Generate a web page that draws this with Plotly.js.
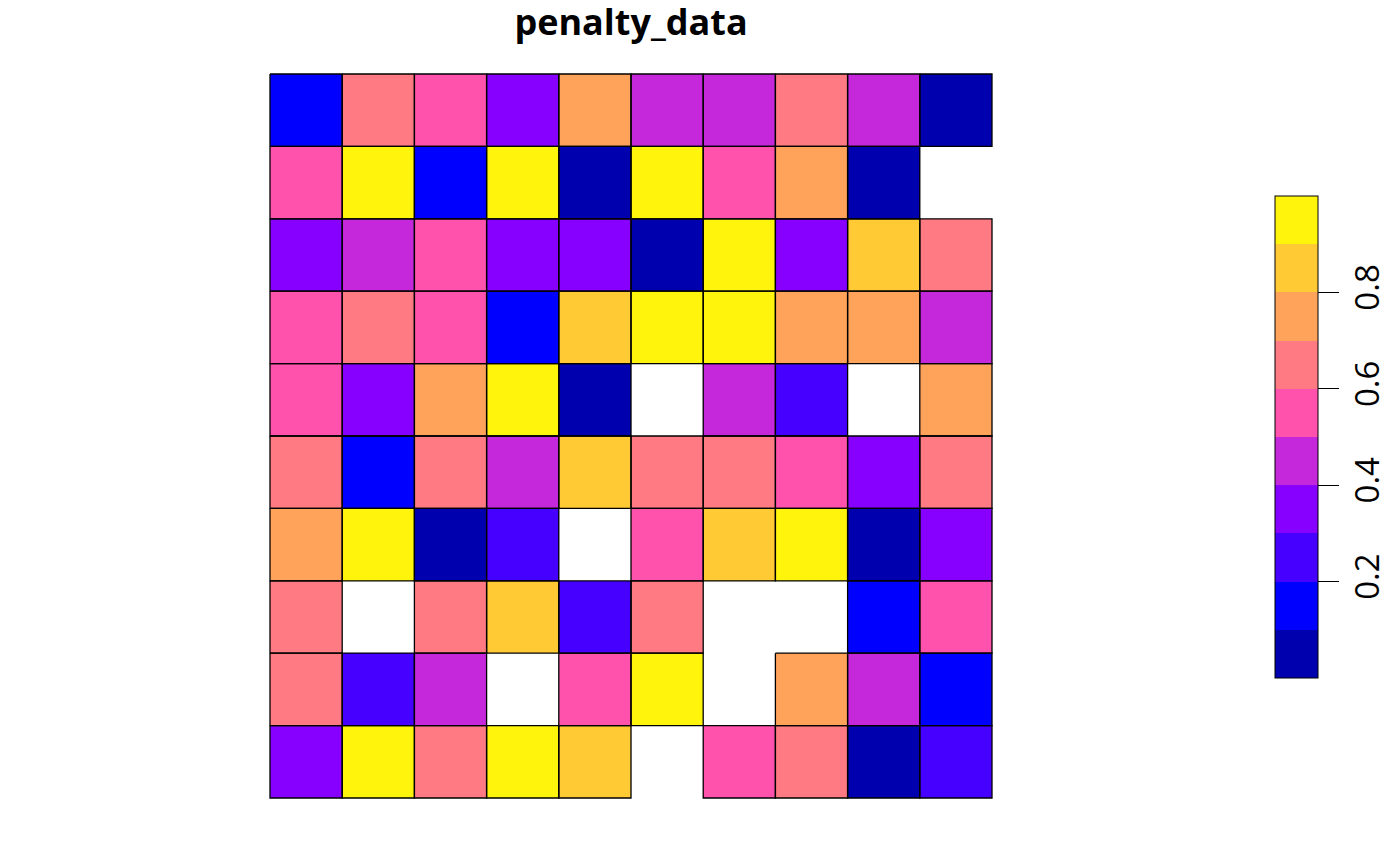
<!DOCTYPE html>
<html>
<head>
<meta charset="utf-8">
<script src="https://cdn.plot.ly/plotly-3.0.1.min.js"></script>
<style>html,body{margin:0;padding:0;background:#fff;}#plot{width:1400px;height:866px;}</style>
</head>
<body>
<div id="plot"></div>
<script>
// ---- data ----
const chartTitle = "penalty_data";
const colIndex = [1, 2, 3, 4, 5, 6, 7, 8, 9, 10];
const rowIndex = [1, 2, 3, 4, 5, 6, 7, 8, 9, 10];
const row1  = [0.15, 0.66, 0.55, 0.36, 0.74, 0.45, 0.47, 0.63, 0.43, 0.06];
const row2  = [0.57, 0.95, 0.12, 0.97, 0.04, 0.93, 0.53, 0.77, 0.08, null];
const row3  = [0.34, 0.46, 0.58, 0.32, 0.38, 0.02, 0.96, 0.35, 0.84, 0.67];
const row4  = [0.52, 0.64, 0.56, 0.17, 0.86, 0.92, 0.98, 0.72, 0.76, 0.44];
const row5  = [0.54, 0.31, 0.73, 0.94, 0.07, null, 0.48, 0.26, null, 0.78];
const row6  = [0.62, 0.13, 0.68, 0.42, 0.88, 0.65, 0.61, 0.59, 0.37, 0.69];
const row7  = [0.71, 0.91, 0.03, 0.24, null, 0.51, 0.82, 0.99, 0.09, 0.33];
const row8  = [0.66, null, 0.64, 0.87, 0.22, 0.63, null, null, 0.18, 0.55];
const row9  = [0.67, 0.28, 0.41, null, 0.57, 0.96, null, 0.75, 0.49, 0.11];
const row10 = [0.39, 0.93, 0.62, 0.97, 0.83, null, 0.52, 0.68, 0.05, 0.27];
const breaks = [0, 0.1, 0.2, 0.3, 0.4, 0.5, 0.6, 0.7, 0.8, 0.9, 1.0];
const binColors = ["#0000AF", "#0000FF", "#4500FF", "#8700FF", "#C428DA",
                   "#FF52AC", "#FF7A82", "#FFA35B", "#FFCA33", "#FFF40C"];
const tickVals = [0.2, 0.4, 0.6, 0.8];
const tickText = ["0.2", "0.4", "0.6", "0.8"];

// ---- build ----
const z = [row1, row2, row3, row4, row5, row6, row7, row8, row9, row10];

const colorscale = [];
binColors.forEach((c, i) => {
  colorscale.push([breaks[i], c]);
  colorscale.push([breaks[i + 1], c]);
});

// cell outlines for every non-missing cell
const bx = [], by = [];
z.forEach((row, ri) => {
  row.forEach((v, ci) => {
    if (v === null) return;
    const cx = colIndex[ci], cy = rowIndex[ri];
    bx.push(cx - 0.5, cx + 0.5, cx + 0.5, cx - 0.5, cx - 0.5, null);
    by.push(cy - 0.5, cy - 0.5, cy + 0.5, cy + 0.5, cy - 0.5, null);
  });
});

const heat = {
  type: "heatmap",
  x: colIndex,
  y: rowIndex,
  z: z,
  zmin: breaks[0],
  zmax: breaks[breaks.length - 1],
  colorscale: colorscale,
  zsmooth: false,
  hoverongaps: false,
  colorbar: {
    x: (1275 - 268) / 727, xanchor: "left",
    y: (800 - 437) / 728, yanchor: "middle",
    lenmode: "pixels", len: 482,
    thicknessmode: "pixels", thickness: 43,
    xpad: 0, ypad: 0,
    outlinewidth: 1, outlinecolor: "#000",
    tickmode: "array", tickvals: tickVals, ticktext: tickText,
    ticks: "outside", ticklen: 21, tickwidth: 1.3, tickcolor: "#000",
    tickangle: -90,
    tickfont: {family: "Open Sans", size: 33, color: "#000"},
    borderwidth: 0
  }
};

const borders = {
  type: "scatter",
  mode: "lines",
  x: bx, y: by,
  line: {color: "#000", width: 1.3},
  hoverinfo: "skip",
  showlegend: false
};

const eps = 2 / 72.3;
const layout = {
  width: 1400, height: 866,
  margin: {l: 268, r: 405, t: 72, b: 66, pad: 0},
  paper_bgcolor: "#fff", plot_bgcolor: "#fff",
  showlegend: false,
  title: {
    text: chartTitle,
    font: {family: "Open Sans", size: 36, weight: 700, color: "#000"},
    xref: "paper", x: 0.5, xanchor: "center",
    yref: "container", y: 1, yanchor: "top",
    pad: {t: 10}
  },
  xaxis: {range: [0.5 - eps, 10.5 + eps], visible: false, fixedrange: true},
  yaxis: {range: [10.5 + eps, 0.5 - eps], visible: false, fixedrange: true}
};

Plotly.newPlot("plot", [heat, borders], layout, {staticPlot: true});
</script>
</body>
</html>
